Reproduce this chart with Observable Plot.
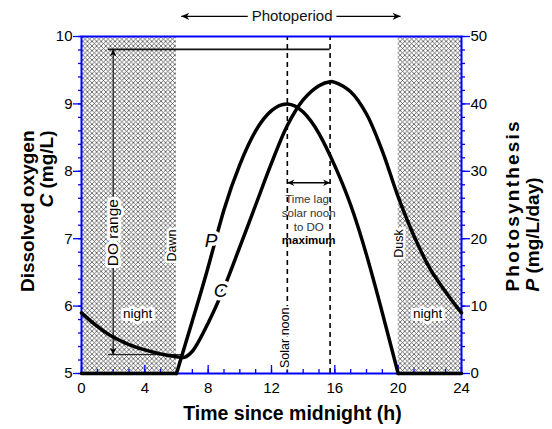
<!DOCTYPE html>
<html>
<head>
<meta charset="utf-8">
<script src="https://cdn.jsdelivr.net/npm/d3@7"></script>
<script src="https://cdn.jsdelivr.net/npm/@observablehq/plot@0.6"></script>
<style>
  html, body { margin: 0; padding: 0; background: white; }
  #chart svg { display: block; }
</style>
</head>
<body>
<div id="chart"></div>
<script>
// ---- data ----
const hours    = [0, 1, 2, 3, 4, 5, 6, 6.5, 7, 8, 9, 10, 11, 12, 13, 14, 15, 15.7, 16, 17, 18, 19, 20, 21, 22, 23, 24];
const doValues = [5.90, 5.70, 5.54, 5.43, 5.35, 5.29, 5.25, 5.24, 5.33, 5.75, 6.27, 6.88, 7.50, 8.12, 8.68, 9.06, 9.27, 9.33, 9.32, 9.18, 8.85, 8.30, 7.62, 7.04, 6.56, 6.21, 5.90];
const pHours   = [6, 7, 8, 9, 10, 11, 12, 13, 14, 15, 16, 17, 18, 19, 20];
const pValues  = [0, 7.8, 15.8, 24.3, 31.0, 36.0, 39.0, 40.0, 38.8, 35.6, 30.8, 25.0, 17.6, 9.0, 0];
const nightStart = [0, 20];
const nightEnd   = [6, 24];
const solarNoon = 13;
const doMaxTime = 15.7;
const doRangeTop = 9.81;
const doRangeBottom = 5.28;
const xTicksMajor = [0, 4, 8, 12, 16, 20, 24];
const yTicksMajor = [5, 6, 7, 8, 9, 10];
const pTickLabels = [0, 10, 20, 30, 40, 50];

// ---- tables ----
const doData = hours.map((t, i) => ({t, c: doValues[i]}));
const pData = pHours.map((t, i) => ({t, p: pValues[i]}));
const nights = nightStart.map((s, i) => ({s, e: nightEnd[i]}));
const pNight = nights.flatMap((n, i) => [{t: n.s, p: 0, k: i}, {t: n.e, p: 0, k: i}]);
const pToC = p => 5 + p / 10;

const font = "'Liberation Sans', Arial, Helvetica, sans-serif";
const halo = {stroke: "white", strokeWidth: 7, fill: "black"};
const minorY = d3.range(25, 51).map(d => d / 5);

const chart = Plot.plot({
  width: 552, height: 429,
  marginLeft: 81, marginRight: 91, marginTop: 36, marginBottom: 56,
  x: {domain: [0, 24]},
  y: {domain: [5, 10]},
  style: {fontFamily: font, fontSize: "15px", background: "white", overflow: "visible"},
  marks: [
    Plot.rectY(nights, {x1: "s", x2: "e", y1: 5, y2: 10, fill: "#999", ariaDescription: "night"}),
    Plot.ruleX([solarNoon, doMaxTime], {y1: 5, y2: 10, stroke: "black", strokeWidth: 1.6, strokeDasharray: "5,4"}),
    Plot.frame({stroke: "blue", strokeWidth: 2}),
    // ticks
    Plot.axisX(d3.range(0, 25, 1), {tickSize: -4, text: null, stroke: "blue", strokeWidth: 1.3, label: null}),
    Plot.axisX(xTicksMajor, {tickSize: -8, text: null, stroke: "blue", strokeWidth: 1.3, label: null}),
    Plot.axisX(xTicksMajor, {tickSize: 0, tickPadding: 9, fontSize: 15, fill: "black", label: null, tickFormat: d => String(d)}),
    Plot.axisY(minorY, {anchor: "left", tickSize: 3, text: null, stroke: "blue", strokeWidth: 1.3, label: null}),
    Plot.axisY(yTicksMajor, {anchor: "left", tickSize: 8, tickPadding: 1, stroke: "blue", strokeWidth: 1.3, fill: "black", fontSize: 15, label: null,
      tickFormat: d => String(d)}),
    Plot.axisY(minorY, {anchor: "right", tickSize: 3, text: null, stroke: "blue", strokeWidth: 1.3, label: null}),
    Plot.axisY(pTickLabels.map(pToC), {anchor: "right", tickSize: 8, tickPadding: 1, stroke: "blue", strokeWidth: 1.3, fill: "black", fontSize: 15, label: null,
      tickFormat: d => String(Math.round((d - 5) * 10))}),
    // DO range annotation
    Plot.ruleY([doRangeTop], {x1: 1.7, x2: doMaxTime, stroke: "#111", strokeWidth: 1.8}),
    Plot.ruleY([doRangeBottom], {x1: 1.7, x2: 6.4, stroke: "#111", strokeWidth: 1}),
    Plot.link([{x1: 2, y1: doRangeBottom, x2: 2, y2: doRangeTop}], {x1: "x1", y1: "y1", x2: "x2", y2: "y2", stroke: "black", strokeWidth: 1.1, ariaDescription: "arr2s"}),
    Plot.text(["DO range"], {x: 2, y: 7.09, rotate: -90, fontSize: 15.5, ...halo, strokeWidth: 6}),
    // curves
    Plot.line(pNight, {x: "t", y: d => pToC(d.p), z: "k", stroke: "black", strokeWidth: 3.5}),
    Plot.line(doData, {x: "t", y: "c", curve: "catmull-rom", stroke: "black", strokeWidth: 3.5}),
    Plot.line(pData, {x: "t", y: d => pToC(d.p), curve: "natural", stroke: "black", strokeWidth: 3.5}),
    // photoperiod
    Plot.link([{x1: 10.5, x2: 6.3}, {x1: 16.1, x2: 20.15}], {x1: "x1", x2: "x2", y1: 10.3, y2: 10.3, stroke: "black", strokeWidth: 1.3, ariaDescription: "arr1"}),
    Plot.text(["Photoperiod"], {x: 13.3, y: 10.3, fontSize: 15, fill: "#111"}),
    // time lag
    Plot.link([{x1: solarNoon, x2: doMaxTime}], {x1: "x1", x2: "x2", y1: 7.83, y2: 7.83, stroke: "black", strokeWidth: 1.5, ariaDescription: "arr2"}),
    Plot.text(["Time lag:\nsolar noon\nto DO"], {x: 14.35, y: 7.39, fontSize: 11.5, lineHeight: 1.2, fill: "#333"}),
    Plot.text(["maximum"], {x: 14.35, y: 6.97, fontSize: 11.5, fill: "black", fontWeight: "bold"}),
    // labels
    Plot.text(["Dawn"], {x: 5.72, y: 6.90, rotate: -90, fontSize: 12.5, ...halo, strokeWidth: 5}),
    Plot.text(["Dusk"], {x: 20.05, y: 6.93, rotate: -90, fontSize: 12.5, ...halo, strokeWidth: 5}),
    Plot.text(["night"], {x: 3.54, y: 5.89, fontSize: 13.5, ...halo, strokeWidth: 6}),
    Plot.text(["night"], {x: 21.86, y: 5.89, fontSize: 13.5, ...halo, strokeWidth: 6}),
    Plot.text(["Solar noon"], {x: 12.88, y: 5.53, rotate: -90, fontSize: 12.5, ...halo, strokeWidth: 4}),
    Plot.text(["P"], {x: 8.19, y: 6.97, fontSize: 19, fontStyle: "italic", ...halo, strokeWidth: 7}),
    Plot.text(["C"], {x: 8.78, y: 6.23, fontSize: 19, fontStyle: "italic", ...halo, strokeWidth: 7}),
    // axis titles
    Plot.text(["Dissolved oxygen"], {frameAnchor: "top-left", dx: -61, dy: 94, rotate: -90, textAnchor: "end", fontSize: 19, fontWeight: "bold"}),
    Plot.text(["C (mg/L)"], {frameAnchor: "top-left", dx: -42, dy: 94, rotate: -90, textAnchor: "end", fontSize: 19, fontWeight: "bold", ariaDescription: "ctitle"}),
    Plot.text(["Photosynthesis"], {frameAnchor: "top-right", dx: 44, dy: 255, rotate: -90, textAnchor: "start", fontSize: 19, fontWeight: "bold", ariaDescription: "phtitle"}),
    Plot.text(["P (mg/L/day)"], {frameAnchor: "top-right", dx: 64, dy: 255, rotate: -90, textAnchor: "start", fontSize: 19, fontWeight: "bold", ariaDescription: "ptitle"}),
    Plot.text(["Time since midnight (h)"], {frameAnchor: "bottom", dx: 21, dy: 46, fontSize: 19.5, fontWeight: "bold"})
  ]
});

// pattern and arrowhead definitions
const defs = `<defs>
  <pattern id="xhatch" patternUnits="userSpaceOnUse" width="4.6" height="4.6">
    <rect width="4.6" height="4.6" fill="white"/>
    <path d="M0,0 L4.6,4.6 M4.6,0 L0,4.6" stroke="#444" stroke-width="0.75"/>
  </pattern>
  <marker id="ah1" viewBox="0 0 10 10" refX="10" refY="5" markerWidth="11" markerHeight="8" markerUnits="userSpaceOnUse" orient="auto-start-reverse">
    <path d="M0,0.5 L10,5 L0,9.5 L3,5 z" fill="black"/>
  </marker>
  <marker id="ah2" viewBox="0 0 10 10" refX="10" refY="5" markerWidth="8" markerHeight="7" markerUnits="userSpaceOnUse" orient="auto-start-reverse">
    <path d="M0,0.5 L10,5 L0,9.5 L3,5 z" fill="black"/>
  </marker>
</defs>`;
chart.insertAdjacentHTML("afterbegin", defs);
chart.querySelectorAll('g[aria-description="night"] rect').forEach(r => r.setAttribute("fill", "url(#xhatch)"));
const ng = chart.querySelector('g[aria-description="night"]'); if (ng) ng.setAttribute("fill", "url(#xhatch)");
chart.querySelectorAll('g[aria-description="arr1"] path').forEach(p => p.setAttribute("marker-end", "url(#ah1)"));
chart.querySelectorAll('g[aria-description="arr2"] path, g[aria-description="arr2s"] path').forEach(p => { p.setAttribute("marker-start", "url(#ah2)"); p.setAttribute("marker-end", "url(#ah2)"); });
const ct = chart.querySelector('g[aria-description="ctitle"] text');
if (ct) ct.innerHTML = '<tspan font-style="italic">C</tspan> (mg/L)';
const pt = chart.querySelector('g[aria-description="ptitle"] text');
if (pt) pt.innerHTML = '<tspan font-style="italic">P</tspan> (mg/L/day)';
const pht = chart.querySelector('g[aria-description="phtitle"] text');
if (pht) pht.setAttribute("letter-spacing", "2.2");
document.getElementById("chart").appendChild(chart);
</script>
</body>
</html>
